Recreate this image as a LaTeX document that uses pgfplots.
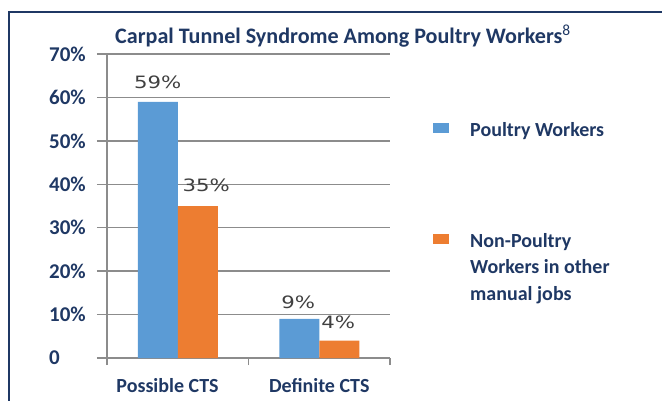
\documentclass[border=0pt]{standalone}
\usepackage{pgfplots}
\pgfplotsset{compat=1.18}
\usepackage{pgfplotstable}
\usepackage{fontspec}
\setmainfont{Carlito}
\newfontfamily\lblfont[FakeStretch=1.25]{DejaVu Sans}
\definecolor{navy}{RGB}{31,56,100}
\definecolor{barblue}{RGB}{91,155,213}
\definecolor{barorange}{RGB}{237,125,49}
\definecolor{gridgray}{RGB}{140,140,140}
\definecolor{lblgray}{RGB}{64,64,64}

\pgfplotstableread{
x y dx dy
0.5 59 0 19
1.5 9 -1 17
}\poultry
\pgfplotstableread{
x y dx dy
0.5 35 8.5 21
1.5 4 -1 18.6
}\nonpoultry

\pgfplotsset{
  mylegend/.style={legend image code/.code={\draw[##1,/tikz/.cd,draw=none] (0pt,3pt) rectangle (16pt,13pt);}},
}

\begin{document}
\begin{tikzpicture}
\path[use as bounding box] (0pt,0pt) rectangle (662pt,400pt);
\draw[navy, line width=2pt] (9pt,-5pt) -- (9pt,388pt) -- (670pt,388pt);
\node[navy, font=\bfseries\fontsize{22.1}{26}\selectfont, anchor=base west, inner sep=0pt] at (115pt,356.7pt) {Carpal Tunnel Syndrome Among Poultry Workers\textsuperscript{\mdseries 8}};
\begin{axis}[
  at={(107pt,42pt)}, anchor=south west,
  scale only axis, width=283pt, height=304pt,
  xmin=0, xmax=2, ymin=0, ymax=70,
  axis lines*=left,
  axis line style={gridgray, line width=1.5pt},
  ybar=0pt, bar width=40pt,
  tick align=outside,
  major tick length=10pt,
  minor tick length=7pt,
  /pgf/number format/assume math mode=true,
  xtick={0.4276,1.5},
  xticklabels={Possible CTS, Definite CTS},
  minor xtick={0,1,2},
  major x tick style={draw=none},
  minor x tick style={gridgray, line width=1.5pt},
  ytick={0,10,...,70},
  yticklabels={0,10\%,20\%,30\%,40\%,50\%,60\%,70\%},
  ytick style={gridgray, line width=1.5pt},
  ymajorgrids,
  grid style={gridgray, line width=1.5pt},
  yticklabel style={font=\bfseries\fontsize{21}{24}\selectfont, text=navy, anchor=west, inner sep=0pt, xshift=-48pt},
  xticklabel style={font=\bfseries\fontsize{20}{24}\selectfont, text=navy, anchor=base, inner sep=0pt, yshift=-24pt},
  visualization depends on={\thisrow{dx} \as \dx},
  visualization depends on={\thisrow{dy} \as \dy},
  nodes near coords={\pgfmathprintnumber{\pgfplotspointmeta}\%},
  nodes near coords style={font=\lblfont\fontsize{17}{20}\selectfont, text=lblgray, anchor=center, inner sep=0pt, xshift=\dx pt, yshift=\dy pt},
  legend style={at={(1.15194,0.7984)}, anchor=north west, draw=none, fill=none, inner sep=0pt, row sep=87.1pt, column sep=19pt,
    cells={anchor=base west, inner sep=0pt, font=\bfseries\fontsize{20}{26.6}\selectfont, text=navy}},
  clip=false,
]
\addplot[fill=barblue, draw=none, mylegend] table[x=x,y=y]{\poultry};
\addlegendentry{\begin{tabular}[t]{@{}l@{}}Poultry Workers\end{tabular}}
\addplot[fill=barorange, draw=none, mylegend] table[x=x,y=y]{\nonpoultry};
\addlegendentry{\begin{tabular}[t]{@{}l@{}}Non-Poultry\\Workers in other\\manual jobs\end{tabular}}
\end{axis}
\end{tikzpicture}
\end{document}
